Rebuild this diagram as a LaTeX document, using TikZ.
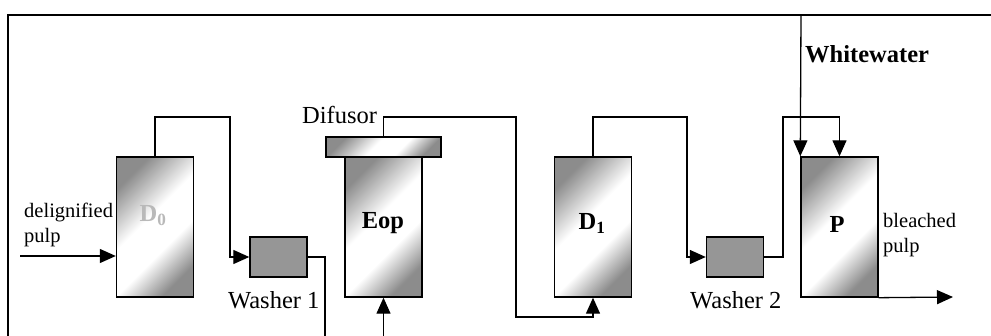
\documentclass[tikz,border=0pt]{standalone}
\usepackage{fontspec}
\setmainfont{Liberation Serif}
\usetikzlibrary{arrows.meta,calc}

\definecolor{washergray}{RGB}{150,150,150}
\definecolor{tankgray}{RGB}{140,140,140}
\definecolor{dzerogray}{RGB}{185,185,185}

\pgfdeclareverticalshading{tankshade}{100bp}{color(0bp)=(tankgray); color(25bp)=(tankgray);
  color(40bp)=(white); color(55bp)=(white); color(75bp)=(tankgray); color(100bp)=(tankgray)}

\tikzset{
  tank/.style={draw, line width=1.4pt, minimum width=77pt, minimum height=140pt,
    inner sep=0pt, shading=tankshade, shading angle=45},
  washer/.style={draw, line width=1.4pt, fill=washergray, minimum width=57pt,
    minimum height=40pt, inner sep=0pt},
  pipe/.style={line width=1.3pt},
  flow/.style={pipe, -{Triangle[length=16pt,width=14pt]}},
  bigtxt/.style={inner sep=0pt, font=\fontsize{24.5}{28}\selectfont},
  smalltxt/.style={inner sep=0pt, align=left, font=\fontsize{20.5}{25}\selectfont}
}

\begin{document}
\begin{tikzpicture}[x=1pt,y=-1pt]
  \useasboundingbox (0,0) rectangle (991,336);

  % frame
  \draw[line width=2.6pt] (991,15) -| (8,336);

  % tanks and washers
  \node[tank] (d0) at (155,227) {};
  \node[tank] (eop) at (383.5,227) {};
  \node[tank, minimum width=115pt, minimum height=20pt] (dif) at (383.5,147) {};
  \node[tank] (d1) at (593,227) {};
  \node[tank] (p) at (839.5,227) {};
  \node[washer] (w1) at (278.5,257) {};
  \node[washer] (w2) at (735,257) {};

  % free ends
  \coordinate (pulpin) at (20,256);
  \coordinate (w1out) at (325,336);
  \coordinate (eopin) at (383.5,336);
  \coordinate (ww) at (801,15);
  \coordinate (pulpout) at (953,297);

  % connectors
  \draw[flow] (pulpin) -- (pulpin -| d0.west);
  \draw[flow] (d0.north) |- (230,117) |- (w1.west);
  \draw[pipe] (w1.east) -| (w1out);
  \draw[flow] (eopin) -- (eop.south);
  \draw[flow] (dif.north) |- (516,117) -- (516,317) -| (d1.south);
  \draw[flow] (d1.north) |- (687,117) |- (w2.west);
  \draw[flow] (w2.east) -| (783,117) -| (p.north);
  \draw[flow] (ww) -- (p.north west);
  \draw[flow] (p.south east) -- (pulpout);

  % labels
  \node[bigtxt, anchor=base, text=dzerogray] (d0lbl) at (153,222) {\bfseries D\textsubscript{0}};
  \node[bigtxt, anchor=base] (eoplbl) at (383,229) {\bfseries Eop};
  \node[bigtxt, anchor=base] (d1lbl) at (592,230) {\bfseries D\textsubscript{1}};
  \node[bigtxt, anchor=base] (plbl) at (837,233) {\bfseries P};
  \node[bigtxt, anchor=base west] (diflbl) at (302,124) {Difusor};
  \node[bigtxt, anchor=base west] (wwlbl) at (805,63) {\bfseries Whitewater};
  \node[bigtxt, anchor=base west] (w1lbl) at (228,309) {Washer 1};
  \node[bigtxt, anchor=base west] (w2lbl) at (690,309) {Washer 2};
  \node[smalltxt, anchor=west] (inlbl) at (24,225) {delignified\\pulp};
  \node[smalltxt, anchor=west] (outlbl) at (883,235) {bleached\\pulp};
\end{tikzpicture}
\end{document}
